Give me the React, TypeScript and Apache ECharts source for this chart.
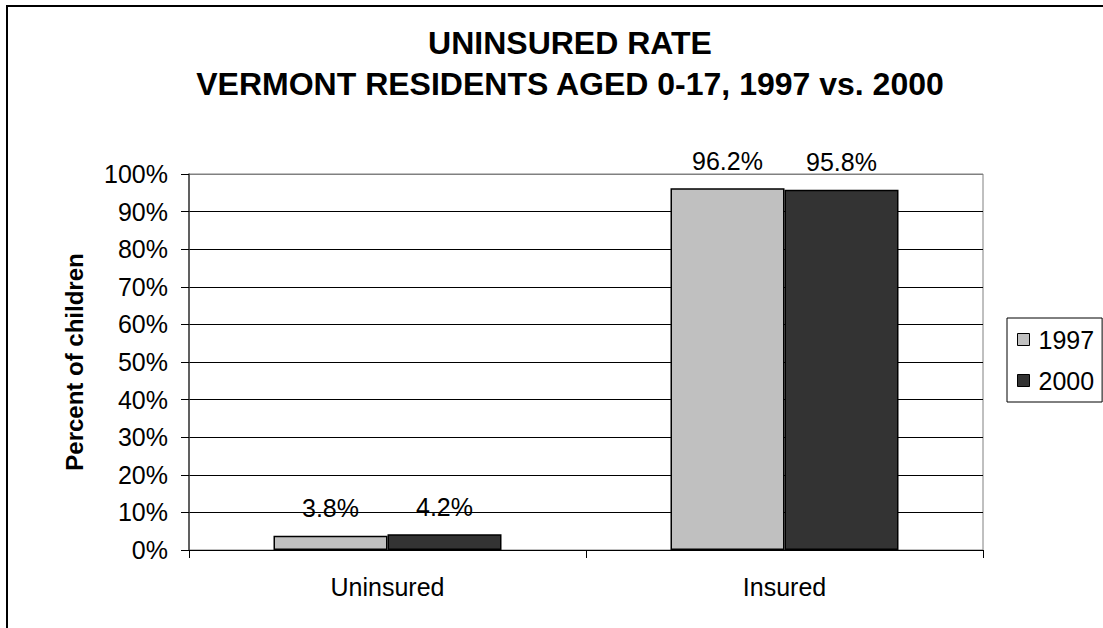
import React, { useEffect, useRef } from 'react';
import * as echarts from 'echarts';

const categories = ['Uninsured', 'Insured'];
const seriesNames = ['1997', '2000'];
const values1997 = [3.8, 96.2];
const values2000 = [4.2, 95.8];
const seriesColors = ['#C0C0C0', '#333333'];
const titleText = 'UNINSURED RATE\nVERMONT RESIDENTS AGED 0-17, 1997 vs. 2000';
const yAxisTitle = 'Percent of children';

const FONT = "'Liberation Sans', Arial, sans-serif";

export default function App() {
  const ref = useRef<HTMLDivElement>(null);
  useEffect(() => {
    const chart = echarts.init(ref.current!, null, { renderer: 'svg' });
    const splitColors = Array.from({ length: 11 }, (_, i) => (i === 10 ? '#808080' : '#000000'));
    const mkSeries = (name: string, data: number[], color: string) => ({
      name,
      type: 'bar',
      data,
      barWidth: 114,
      barGap: '0%',
      itemStyle: { color, borderColor: '#000', borderWidth: 1.5 },
      label: {
        show: true,
        position: 'top',
        distance: 15,
        formatter: (p: any) => `${p.value.toFixed(1)}%`,
        color: '#000',
        fontFamily: FONT,
        fontSize: 25,
      },
    });
    chart.setOption({
      animation: false,
      backgroundColor: '#fff',
      textStyle: { fontFamily: FONT },
      graphic: [
        {
          type: 'rect',
          silent: true,
          z: -10,
          shape: { x: 7, y: 6, width: 1200, height: 700 },
          style: { fill: 'none', stroke: '#000', lineWidth: 2 },
        },
      ],
      title: {
        text: titleText,
        left: 570,
        top: 22,
        textAlign: 'center',
        padding: 0,
        textStyle: {
          fontFamily: FONT,
          fontSize: 32,
          fontWeight: 'bold',
          color: '#000',
          lineHeight: 41,
        },
      },
      legend: {
        orient: 'vertical',
        left: 1007,
        top: 318,
        padding: [9, 8, 9, 10],
        itemGap: 16,
        itemWidth: 12,
        itemHeight: 12,
        icon: 'rect',
        borderColor: '#000',
        borderWidth: 1,
        itemStyle: { borderColor: '#000', borderWidth: 1 },
        textStyle: { fontFamily: FONT, fontSize: 25, color: '#000', padding: [0, 0, 0, 4] },
        data: seriesNames,
      },
      grid: {
        left: 189,
        top: 174,
        width: 794,
        height: 376,
        show: true,
        borderColor: '#808080',
        borderWidth: 1,
        containLabel: false,
      },
      xAxis: {
        type: 'category',
        data: categories,
        axisLine: { lineStyle: { color: '#000', width: 1 } },
        axisTick: { show: true, length: 8, lineStyle: { color: '#000' } },
        axisLabel: { margin: 24, fontFamily: FONT, fontSize: 25, color: '#000' },
      },
      yAxis: {
        type: 'value',
        min: 0,
        max: 100,
        interval: 10,
        name: yAxisTitle,
        nameLocation: 'middle',
        nameGap: 103,
        nameRotate: 90,
        nameTextStyle: { fontFamily: FONT, fontSize: 24, fontWeight: 'bold', color: '#000' },
        axisLine: { show: true, lineStyle: { color: '#404040', width: 1.5 } },
        axisTick: { show: true, length: 8, lineStyle: { color: '#000' } },
        axisLabel: {
          margin: 21,
          fontFamily: FONT,
          fontSize: 25,
          color: '#000',
          formatter: (v: number) => `${v}%`,
        },
        splitLine: { show: true, lineStyle: { color: splitColors, width: 1 } },
      },
      series: [
        mkSeries(seriesNames[0], values1997, seriesColors[0]),
        mkSeries(seriesNames[1], values2000, seriesColors[1]),
      ],
    });
    return () => chart.dispose();
  }, []);
  return (
    <div
      ref={ref}
      style={{ position: 'fixed', left: 0, top: 0, width: 1103, height: 628, background: '#fff' }}
    />
  );
}
